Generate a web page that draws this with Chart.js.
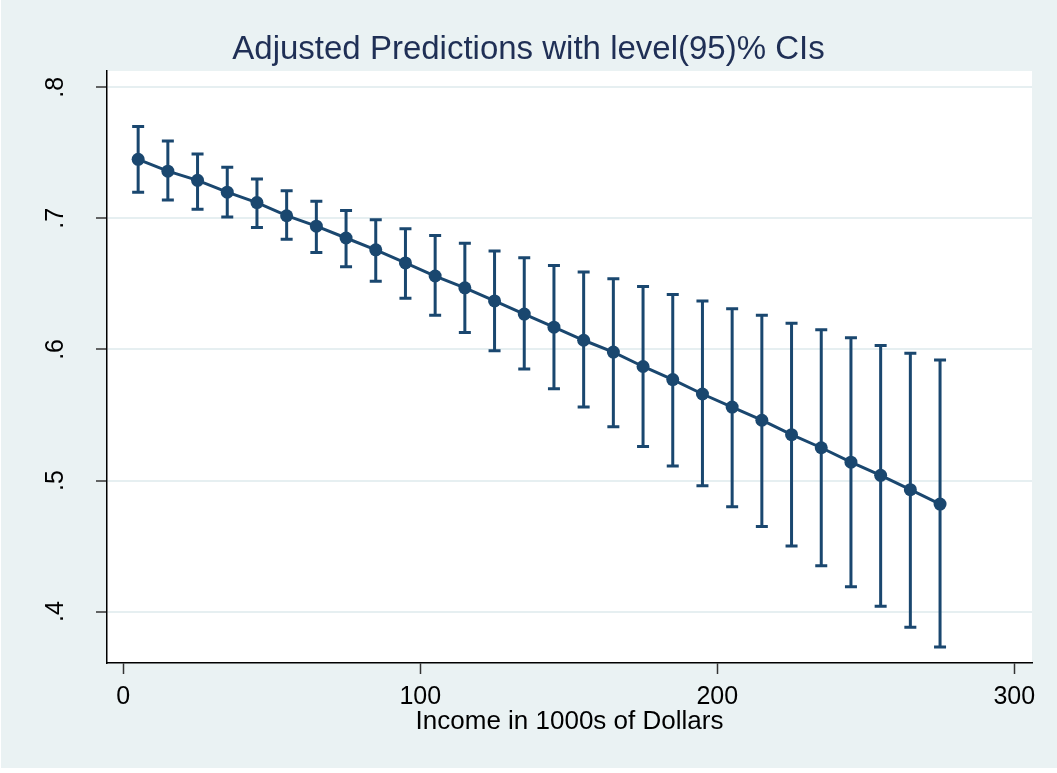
<!DOCTYPE html>
<html>
<head>
<meta charset="utf-8">
<script src="https://cdn.jsdelivr.net/npm/chart.js@4.4.1/dist/chart.umd.min.js"></script>
<style>
  body { margin: 0; background: #fff; }
  canvas { display: block; }
</style>
</head>
<body>
<canvas id="myChart" width="1057" height="773"></canvas>
<script>
// income (1000s of dollars) and predicted margins with 95% CI
const income = [5, 15, 25, 35, 45, 55, 65, 75, 85, 95, 105, 115, 125, 135,
                145, 155, 165, 175, 185, 195, 205, 215, 225, 235, 245, 255, 265, 275];
const margin = [.745, .736, .729, .720, .712, .702, .694, .685, .676, .666, .656, .647, .637, .627,
                .617, .607, .598, .587, .577, .566, .556, .546, .535, .525, .514, .504, .493, .482];
const ciUpper = [.770, .759, .749, .739, .730, .721, .713, .706, .699, .692, .687, .681, .675, .670,
                 .664, .659, .654, .648, .642, .637, .631, .626, .620, .615, .609, .603, .597, .592];
const ciLower = [.720, .714, .707, .701, .693, .684, .674, .663, .652, .639, .626, .613, .599, .585,
                 .570, .556, .541, .526, .511, .496, .480, .465, .450, .435, .419, .404, .388, .373];
const xTicks = [0, 100, 200, 300];
const yTicks = [.4, .5, .6, .7, .8];

const navy = '#1a476f';
const fontFam = '"Liberation Sans", Arial, sans-serif';

// stata style background: bluish outer region, white plot region
const bgPlugin = {
  id: 'stataBg',
  beforeDraw(chart) {
    const { ctx, chartArea: a, width, height } = chart;
    ctx.save();
    ctx.fillStyle = '#ffffff';
    ctx.fillRect(0, 0, width, height);
    ctx.fillStyle = '#eaf2f3';
    ctx.fillRect(1, 0, width - 1, 768);
    ctx.fillStyle = '#ffffff';
    ctx.fillRect(a.left, a.top, a.right - a.left, a.bottom - a.top);
    ctx.restore();
  }
};

// capped error bars (rcap)
const errorBars = {
  id: 'errorBars',
  beforeDatasetsDraw(chart) {
    const { ctx, scales: { x, y } } = chart;
    ctx.save();
    ctx.strokeStyle = navy;
    ctx.lineWidth = 3;
    ctx.lineCap = 'butt';
    for (let i = 0; i < income.length; i++) {
      const px = x.getPixelForValue(income[i]);
      const yU = y.getPixelForValue(ciUpper[i]);
      const yL = y.getPixelForValue(ciLower[i]);
      ctx.beginPath();
      ctx.moveTo(px, yU);
      ctx.lineTo(px, yL);
      ctx.moveTo(px - 6, yU);
      ctx.lineTo(px + 6, yU);
      ctx.moveTo(px - 6, yL);
      ctx.lineTo(px + 6, yL);
      ctx.stroke();
    }
    ctx.restore();
  }
};

// vertical y tick labels like stata
const yLabels = {
  id: 'yLabels',
  afterDraw(chart) {
    const { ctx, scales: { y }, chartArea: a } = chart;
    ctx.save();
    ctx.fillStyle = '#000';
    ctx.font = '25px ' + fontFam;
    ctx.textAlign = 'center';
    ctx.textBaseline = 'alphabetic';
    y.ticks.forEach(t => {
      const py = y.getPixelForValue(t.value);
      ctx.save();
      ctx.translate(a.left - 44.5, py);
      ctx.rotate(-Math.PI / 2);
      ctx.fillText(String(t.value).replace(/^0/, ''), 0, 0);
      ctx.restore();
    });
    ctx.restore();
  }
};

const ctx = document.getElementById('myChart').getContext('2d');
const myChart = new Chart(ctx, {
  type: 'line',
  data: {
    datasets: [{
      label: 'Margin',
      data: income.map((v, i) => ({ x: v, y: margin[i] })),
      borderColor: navy,
      backgroundColor: navy,
      borderWidth: 3,
      pointRadius: 6.5,
      pointBackgroundColor: navy,
      pointBorderWidth: 0,
      tension: 0,
      fill: false
    }]
  },
  options: {
    responsive: false,
    animation: false,
    layout: { padding: 0 },
    plugins: {
      legend: { display: false },
      tooltip: { enabled: false },
      title: {
        display: true,
        text: 'Adjusted Predictions with level(95)% CIs',
        color: '#1f2f55',
        font: { family: fontFam, size: 33, weight: 'normal' },
        padding: { top: 30, bottom: 1.4 }
      }
    },
    scales: {
      x: {
        type: 'linear',
        min: -5.49,
        max: 305.96,
        afterBuildTicks: s => { s.ticks = xTicks.map(v => ({ value: v })); },
        afterFit: s => { s.height = 110; },
        ticks: {
          color: '#000',
          font: { family: fontFam, size: 25 },
          padding: 8,
          maxRotation: 0,
          callback: v => String(v)
        },
        grid: {
          drawOnChartArea: false,
          drawTicks: true,
          tickLength: 11,
          tickColor: '#333',
          tickWidth: 1.5
        },
        border: { display: true, color: '#000', width: 1.5 },
        title: {
          display: true,
          text: 'Income in 1000s of Dollars',
          color: '#000',
          font: { family: fontFam, size: 26 },
          padding: { top: 36, bottom: 36 }
        }
      },
      y: {
        type: 'linear',
        min: 0.3608,
        max: 0.8124,
        afterBuildTicks: s => { s.ticks = yTicks.map(v => ({ value: v })); },
        afterFit: s => { s.width = 107; },
        ticks: { display: false },
        grid: {
          color: '#e6eff1',
          lineWidth: 2,
          drawTicks: true,
          tickLength: 11,
          tickColor: '#333',
          tickWidth: 1.5
        },
        border: { display: true, color: '#000', width: 1.5 }
      },
      // empty right-hand margin so the title centres on the full width
      yRight: {
        type: 'linear',
        position: 'right',
        display: true,
        afterFit: s => { s.width = 25; },
        ticks: { display: false },
        grid: { display: false, drawTicks: false },
        border: { display: false }
      }
    }
  },
  plugins: [bgPlugin, errorBars, yLabels]
});
</script>
</body>
</html>
